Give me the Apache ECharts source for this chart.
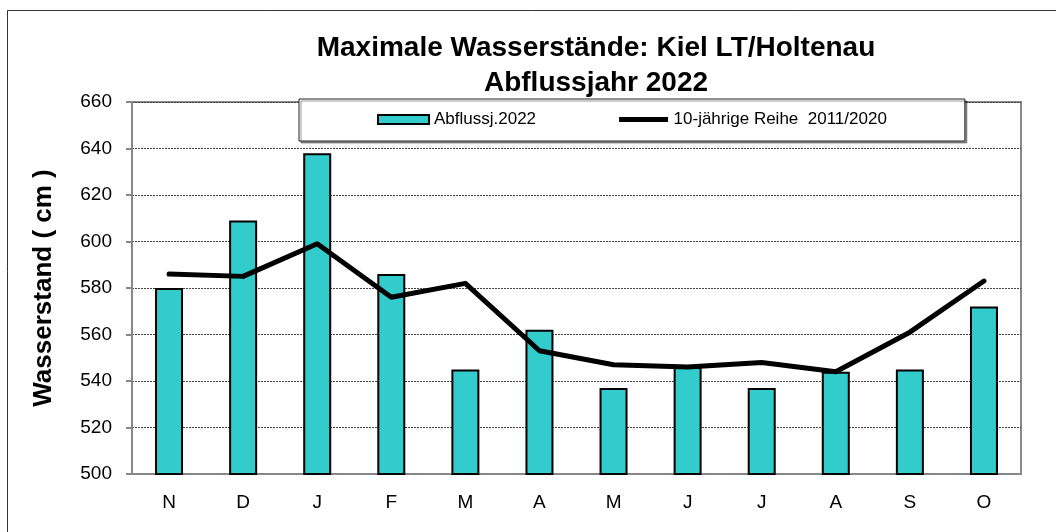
<!DOCTYPE html>
<html>
<head>
<meta charset="utf-8">
<title>Maximale Wasserstände Kiel</title>
<script src="https://cdn.jsdelivr.net/npm/echarts@6/dist/echarts.min.js"></script>
<style>
  html, body { margin: 0; padding: 0; background: #fff; }
  #chart { width: 1056px; height: 532px; }
</style>
</head>
<body>
<div id="chart"></div>
<script>
// Monate des Abflussjahres (Nov - Okt)
const months = ['N', 'D', 'J', 'F', 'M', 'A', 'M', 'J', 'J', 'A', 'S', 'O']
// Abflussjahr 2022, max. Wasserstand in cm
const abfluss2022 = [580, 609, 638, 586, 545, 562, 537, 546, 537, 544, 545, 572]
// 10-jährige Reihe 2011/2020
const reihe10 = [586, 585, 599, 576, 582, 553, 547, 546, 548, 544, 561, 583]
const yTicks = [500, 520, 540, 560, 580, 600, 620, 640, 660]

const font = 'Liberation Sans, Arial, sans-serif'
// dicke Linie als Legendensymbol (M-Punkte halten die Hoehe bei 9)
const lineIcon = 'path://M0,0M0,9M1,2L50,2L50,7L1,7Z'

const chart = echarts.init(document.getElementById('chart'))

chart.setOption({
  backgroundColor: '#fff',
  animation: false,
  title: {
    text: 'Maximale Wasserstände: Kiel LT/Holtenau\nAbflussjahr 2022',
    left: 591,
    top: 26,
    textAlign: 'center',
    textStyle: {
      fontFamily: font,
      fontSize: 28,
      fontWeight: 'bold',
      color: '#000',
      lineHeight: 35
    }
  },
  graphic: [{
    // Rahmen ums ganze Diagramm
    type: 'rect',
    shape: { x: 7.5, y: 10.5, width: 1100, height: 600 },
    style: { fill: null, stroke: '#333', lineWidth: 1 },
    silent: true
  }],
  legend: {
    left: 299,
    top: 99,
    padding: [12, 78, 13, 78],
    itemGap: 82,
    backgroundColor: '#fff',
    borderColor: '#222',
    borderWidth: 1,
    shadowColor: 'rgba(0,0,0,0.4)',
    shadowOffsetX: 2,
    shadowOffsetY: 2,
    shadowBlur: 0,
    itemWidth: 51,
    itemHeight: 9,
    textStyle: { fontFamily: font, fontSize: 17, color: '#000' },
    data: [
      { name: 'Abflussj.2022', icon: 'rect' },
      { name: '10-jährige Reihe  2011/2020', icon: lineIcon, itemStyle: { color: '#000' } }
    ]
  },
  grid: {
    left: 132,
    right: 35,
    top: 102,
    bottom: 58,
    show: true,
    borderColor: '#888',
    borderWidth: 2
  },
  xAxis: {
    type: 'category',
    data: months,
    axisLine: { lineStyle: { color: '#888', width: 2 } },
    axisTick: { show: false },
    axisLabel: { fontFamily: font, fontSize: 19, color: '#000', margin: 19 }
  },
  yAxis: {
    type: 'value',
    min: yTicks[0],
    max: yTicks[yTicks.length - 1],
    interval: 20,
    name: 'Wasserstand ( cm )',
    nameLocation: 'middle',
    nameGap: 75,
    nameTextStyle: { fontFamily: font, fontSize: 26, fontWeight: 'bold', color: '#000' },
    axisLine: { show: true, lineStyle: { color: '#888', width: 2 } },
    axisTick: { show: true, length: 6, lineStyle: { color: '#888', width: 2 } },
    axisLabel: { fontFamily: font, fontSize: 19, color: '#000', margin: 20 },
    splitLine: { lineStyle: { color: '#444', width: 1, type: [2, 1] } }
  },
  series: [{
    name: 'Abflussj.2022',
    type: 'bar',
    data: abfluss2022,
    barWidth: 28,
    itemStyle: { color: '#33CCCC', borderColor: '#000', borderWidth: 2 }
  }, {
    name: '10-jährige Reihe  2011/2020',
    type: 'line',
    data: reihe10,
    symbol: 'none',
    lineStyle: { color: '#000', width: 5, cap: 'round', join: 'round' },
    itemStyle: { color: '#000' }
  }]
})
</script>
</body>
</html>
